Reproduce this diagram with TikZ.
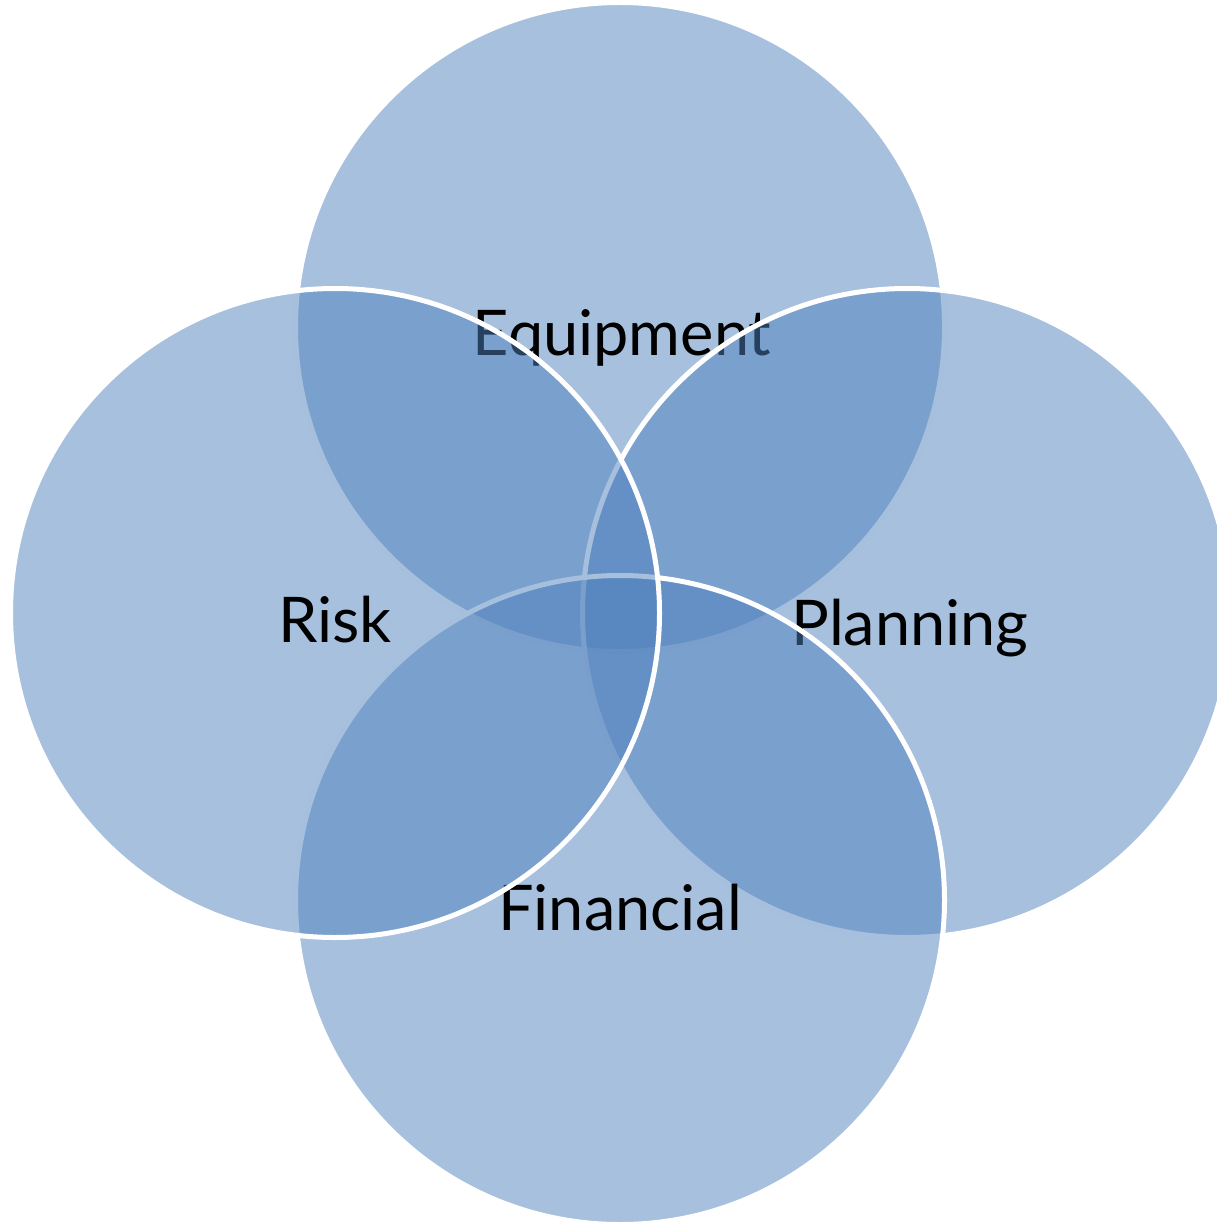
\documentclass[tikz,border=0pt]{standalone}
\usepackage{fontspec}
\setmainfont{Lato}
\usetikzlibrary{positioning}
\definecolor{vennblue}{HTML}{4F81BD}

\begin{document}
\begin{tikzpicture}[x=1pt, y=-1pt,
    venn/.style={circle, fill=vennblue, fill opacity=0.5, draw=white,
      line width=5pt, minimum size=649pt, inner sep=0pt},
    vennlabel/.style={anchor=base, text=black, inner sep=0pt,
      font=\fontsize{63}{72}\selectfont}]

  \useasboundingbox (0,0) rectangle (1216,1222);

  \node[venn] (equip) at (620,327) {};
  \node[vennlabel] (equiplabel) at (622,355) {Equipment};

  \node[venn] (plan) at (907,613) {};
  \node[vennlabel] (planlabel) at (910,645) {Planning};

  \node[venn] (fin) at (620,900) {};
  \node[vennlabel] (finlabel) at (620,930) {Financial};

  \node[venn] (risk) at (335,613) {};
  \node[vennlabel] (risklabel) at (335,642) {Risk};

\end{tikzpicture}
\end{document}
